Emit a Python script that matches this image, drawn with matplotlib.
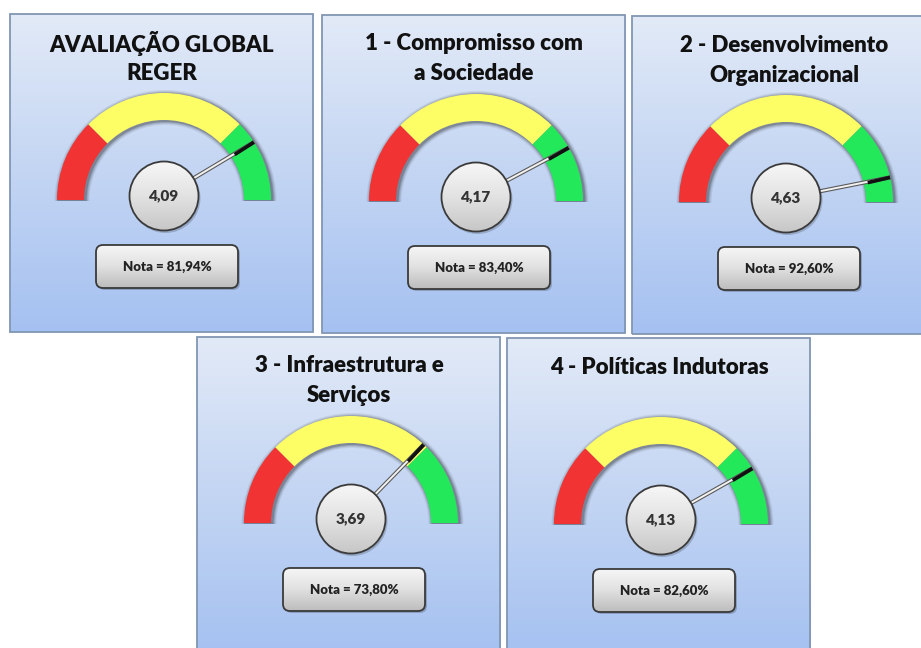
import numpy as np
import matplotlib.pyplot as plt
from matplotlib.patches import Wedge, Circle, FancyBboxPatch, Rectangle
from matplotlib.colors import LinearSegmentedColormap
import matplotlib.patheffects as pe

# ---- dados ----
titles = ["AVALIAÇÃO GLOBAL\nREGER",
          "1 - Compromisso com\na Sociedade",
          "2 - Desenvolvimento\nOrganizacional",
          "3 - Infraestrutura e\nServiços",
          "4 - Políticas Indutoras"]
scores = [4.09, 4.17, 4.63, 3.69, 4.13]
notas = [81.94, 83.40, 92.60, 73.80, 82.60]
zone_limits = [0, 1.25, 3.75, 5]
scale_max = 5

# ---- layout (pixels, origem no canto superior esquerdo) ----
W, H = 921, 648
panel_pos = [(10, 14), (322, 15), (632, 16), (197, 337), (507, 338)]
PW, PH = 303, 318
R_OUT, R_IN = 107, 80
zone_colors = ['#f23333', '#fdfd66', '#22e85a']

plt.rcParams['font.family'] = ['Lato', 'DejaVu Sans']

fig = plt.figure(figsize=(W / 100, H / 100), dpi=100)
ax = fig.add_axes([0, 0, 1, 1])
ax.set_xlim(0, W)
ax.set_ylim(0, H)
ax.axis('off')

panel_cmap = LinearSegmentedColormap.from_list('panel', ['#e2eaf7', '#c3d5f3', '#a5c1f1'])
knob_cmap = LinearSegmentedColormap.from_list('knob', ['#f7f7f7', '#e2e2e2', '#c6c6c6'])
box_cmap = LinearSegmentedColormap.from_list('box', ['#f6f6f6', '#e0e0e0', '#bcbcbc'])
grad = np.linspace(0, 1, 256).reshape(-1, 1)


def fy(y):
    return H - y


def gradient_fill(x0, x1, y_top, y_bot, cmap, clip, z):
    im = ax.imshow(grad, cmap=cmap, extent=(x0, x1, y_bot, y_top),
                   origin='upper', aspect='auto', zorder=z, interpolation='bilinear')
    im.set_clip_path(clip)


for i, (px, py) in enumerate(panel_pos):
    # painel com degradê
    rect = Rectangle((px, fy(py + PH)), PW, PH, facecolor='none',
                     edgecolor='#8196b3', linewidth=1.3, zorder=3)
    ax.add_patch(rect)
    gradient_fill(px, px + PW, fy(py), fy(py + PH), panel_cmap, rect, 1)

    cx = px + 154
    cy = fy(py + 186)

    # título
    lines = titles[i].split('\n')
    for k, line in enumerate(lines):
        ax.text(px + 152, fy(py + 29 + 30 * k), line, ha='center', va='center',
                fontsize=16, fontweight='heavy', color='#111111', zorder=5)

    # sombra do arco
    for d, a in [(4, 0.06), (3, 0.08), (2, 0.12), (1, 0.18)]:
        ax.add_patch(Wedge((cx + 1.5, cy - 1), R_OUT + d, 0, 180, width=R_OUT - R_IN + 2 * d,
                           facecolor='black', alpha=a, edgecolor='none', zorder=3))

    # zonas do medidor
    for z in range(3):
        t1 = 180 * (1 - zone_limits[z + 1] / scale_max)
        t2 = 180 * (1 - zone_limits[z] / scale_max)
        ax.add_patch(Wedge((cx, cy), R_OUT, t1, t2, width=R_OUT - R_IN,
                           facecolor=zone_colors[z], edgecolor='none', zorder=4))

    # ponteiro
    ang = np.radians(180 * (1 - scores[i] / scale_max))
    kx, ky = cx, cy + 4
    tx, ty = cx + R_OUT * np.cos(ang), cy + R_OUT * np.sin(ang)
    ax.plot([kx, tx], [ky, ty], color='#f2f2f2', linewidth=1.4, solid_capstyle='butt', zorder=6,
            path_effects=[pe.Stroke(linewidth=3.0, foreground='#5a5a5a'), pe.Normal()])
    bx, by = cx + (R_IN + 4) * np.cos(ang), cy + (R_IN + 4) * np.sin(ang)
    ax.plot([bx, tx], [by, ty], color='#111111', linewidth=2.6, solid_capstyle='butt', zorder=6)

    # botão central
    ax.add_patch(Circle((kx + 1.5, ky - 2), 35, facecolor='black', alpha=0.18,
                        edgecolor='none', zorder=6.5))
    knob = Circle((kx, ky), 34.5, facecolor='none', edgecolor='#3a3a3a', linewidth=1.3, zorder=8)
    ax.add_patch(knob)
    gradient_fill(kx - 35, kx + 35, ky + 35, ky - 35, knob_cmap, knob, 7)
    ax.text(kx, ky, f"{scores[i]:.2f}".replace('.', ','), ha='center', va='center',
            fontsize=11, fontweight='heavy', color='#333333', zorder=9)

    # caixa da nota
    bw, bh = 142, 43
    bx0 = cx + 3 - bw / 2
    by0 = fy(py + 186 - 4 + 49 + bh)
    ax.add_patch(FancyBboxPatch((bx0 + 2, by0 - 2), bw, bh, boxstyle='round,pad=0,rounding_size=7',
                                facecolor='black', alpha=0.2, edgecolor='none', zorder=6.5))
    box = FancyBboxPatch((bx0, by0), bw, bh, boxstyle='round,pad=0,rounding_size=7',
                         facecolor='none', edgecolor='#3a3a3a', linewidth=1.3, zorder=8)
    ax.add_patch(box)
    gradient_fill(bx0, bx0 + bw, by0 + bh, by0, box_cmap, box, 7)
    ax.text(bx0 + bw / 2, by0 + bh / 2, f"Nota = {notas[i]:.2f}%".replace('.', ','),
            ha='center', va='center', fontsize=9.5, fontweight='heavy', color='#222222', zorder=9)

ax.set_xlim(0, W)
ax.set_ylim(0, H)
fig.savefig('out.png', dpi=100, facecolor='white')
